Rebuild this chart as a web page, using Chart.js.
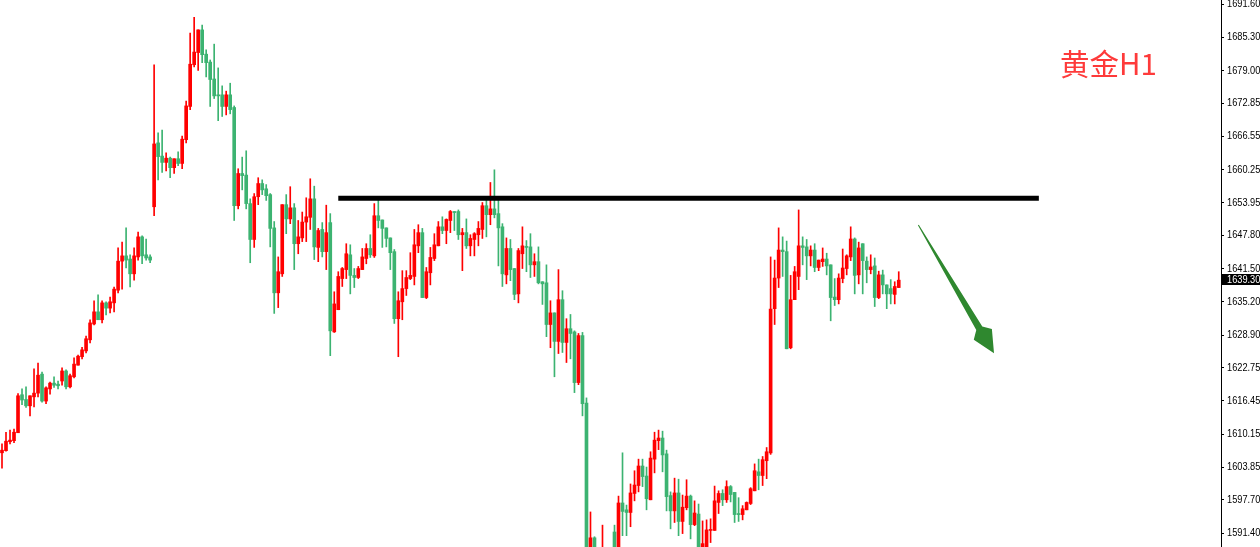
<!DOCTYPE html>
<html>
<head>
<meta charset="utf-8">
<script src="https://cdn.jsdelivr.net/npm/chart.js"></script>
<style>
  html, body { margin: 0; padding: 0; background: #fff; }
  #wrap { width: 1260px; height: 547px; }
</style>
</head>
<body>
<div id="wrap"><canvas id="myChart" width="1260" height="547"></canvas></div>
<script>
'use strict';

// H1 candles (oldest first)
let opens = [
  1606.6, 1607.0, 1608.7, 1608.9, 1610.4, 1617.6, 1616.7, 1615.5, 1617.2, 1617.9,
  1621.5, 1616.4, 1618.7, 1619.8, 1619.6, 1620.2, 1622.1, 1619.1, 1621.0, 1623.2,
  1624.8, 1625.9, 1628.0, 1631.0, 1633.3, 1631.8, 1635.0, 1634.0, 1635.0, 1637.4,
  1642.9, 1643.9, 1643.3, 1640.5, 1643.7, 1647.5, 1644.1, 1643.7, 1653.2, 1665.3,
  1662.8, 1661.6, 1662.4, 1660.6, 1662.3, 1661.4, 1665.9, 1672.2, 1680.1, 1682.4,
  1686.7, 1682.1, 1680.6, 1677.4, 1674.4, 1674.4, 1672.2, 1674.4, 1672.0, 1653.4,
  1659.5, 1659.2, 1653.8, 1647.0, 1655.1, 1657.6, 1656.6, 1655.5, 1649.2, 1636.9,
  1640.5, 1653.6, 1650.9, 1653.0, 1646.2, 1647.3, 1650.3, 1651.2, 1654.7, 1645.5,
  1648.9, 1644.7, 1650.2, 1629.5, 1633.7, 1639.6, 1641.3, 1644.1, 1640.2, 1639.8,
  1641.3, 1643.4, 1645.3, 1643.9, 1651.5, 1650.7, 1649.2, 1647.3, 1644.7, 1632.0,
  1635.2, 1637.7, 1639.6, 1640.0, 1645.8, 1648.3, 1636.0, 1640.7, 1643.4, 1645.8,
  1649.4, 1648.7, 1650.6, 1652.3, 1652.3, 1647.9, 1648.3, 1645.8, 1647.0, 1647.9,
  1648.9, 1653.4, 1651.7, 1652.8, 1651.9, 1649.4, 1640.3, 1645.3, 1641.5, 1636.7,
  1644.3, 1645.6, 1645.6, 1642.2, 1642.8, 1639.0, 1638.8, 1630.9, 1633.1, 1627.7,
  1635.6, 1627.5, 1630.1, 1629.5, 1619.9, 1628.8, 1616.0, 1587.0, 1590.5, 1588.0,
  1583.5, 1587.5, 1585.0, 1591.6, 1587.0, 1597.1, 1595.8, 1595.3, 1598.9, 1600.4,
  1604.1, 1602.2, 1597.7, 1605.4, 1608.9, 1609.4, 1606.4, 1598.5, 1595.6, 1599.0,
  1593.6, 1596.2, 1598.4, 1593.0, 1595.0, 1588.5, 1588.3, 1591.9, 1591.9, 1597.2,
  1598.9, 1597.7, 1600.2, 1599.1, 1595.1, 1594.9, 1595.8, 1597.0, 1599.4, 1603.0,
  1602.3, 1605.1, 1606.6, 1633.9, 1639.7, 1645.0, 1644.7, 1626.5, 1635.6, 1640.0,
  1645.8, 1645.6, 1643.9, 1645.0, 1641.7, 1642.8, 1643.3, 1642.2, 1636.1, 1635.6,
  1639.6, 1641.5, 1643.7, 1647.1, 1640.3, 1646.2, 1642.9, 1641.3, 1642.0, 1636.0,
  1640.3, 1638.4, 1637.7, 1636.6, 1637.9
];
let highs = [
  1608.3, 1610.5, 1610.9, 1611.1, 1617.8, 1618.7, 1619.1, 1617.4, 1622.5, 1623.6,
  1621.9, 1619.1, 1620.0, 1621.0, 1620.2, 1622.7, 1622.3, 1621.5, 1624.6, 1625.1,
  1626.6, 1628.7, 1631.8, 1635.4, 1636.5, 1635.4, 1635.2, 1636.1, 1638.0, 1645.4,
  1646.5, 1649.2, 1644.1, 1645.4, 1648.4, 1647.7, 1647.1, 1644.1, 1680.1, 1667.2,
  1667.7, 1663.4, 1662.6, 1662.3, 1663.6, 1666.6, 1673.2, 1686.1, 1689.1, 1686.7,
  1687.6, 1682.9, 1681.0, 1684.0, 1679.5, 1676.1, 1675.1, 1676.6, 1672.3, 1660.4,
  1662.6, 1663.8, 1654.7, 1655.7, 1658.7, 1658.3, 1657.4, 1655.7, 1650.4, 1643.7,
  1653.6, 1655.5, 1657.0, 1653.8, 1650.6, 1652.2, 1654.9, 1658.5, 1657.1, 1649.1,
  1650.2, 1653.5, 1651.9, 1637.1, 1640.9, 1641.7, 1646.2, 1646.0, 1641.5, 1641.9,
  1645.3, 1646.2, 1647.9, 1653.8, 1654.4, 1650.7, 1649.2, 1647.3, 1645.1, 1637.1,
  1641.1, 1641.1, 1644.5, 1648.9, 1649.8, 1649.1, 1641.7, 1645.5, 1648.1, 1650.4,
  1651.3, 1650.9, 1652.5, 1652.3, 1652.6, 1649.1, 1650.9, 1647.9, 1648.3, 1650.4,
  1654.0, 1654.4, 1657.8, 1660.2, 1654.4, 1650.0, 1647.3, 1647.0, 1641.5, 1645.3,
  1649.4, 1646.8, 1648.1, 1644.3, 1645.6, 1639.0, 1642.2, 1635.4, 1633.1, 1641.3,
  1637.3, 1632.0, 1632.8, 1629.7, 1629.2, 1629.4, 1617.0, 1595.4, 1590.7, 1588.5,
  1592.9, 1588.5, 1588.0, 1592.9, 1598.4, 1606.6, 1596.7, 1600.7, 1603.2, 1605.4,
  1605.4, 1603.9, 1606.8, 1610.5, 1610.9, 1610.7, 1607.1, 1599.2, 1601.8, 1601.6,
  1598.6, 1601.5, 1598.6, 1597.5, 1596.9, 1593.7, 1593.9, 1594.1, 1600.3, 1599.4,
  1599.6, 1601.3, 1600.4, 1599.1, 1598.1, 1596.6, 1597.3, 1600.0, 1604.5, 1605.4,
  1605.9, 1607.6, 1643.7, 1643.1, 1649.2, 1647.5, 1646.7, 1640.2, 1641.9, 1652.6,
  1647.5, 1647.0, 1645.8, 1646.2, 1643.1, 1645.4, 1644.4, 1642.2, 1639.6, 1640.5,
  1645.2, 1644.1, 1649.4, 1647.3, 1646.5, 1646.2, 1643.7, 1644.1, 1643.5, 1641.0,
  1641.2, 1638.4, 1639.4, 1639.0, 1640.9
];
let lows = [
  1603.7, 1606.9, 1608.3, 1608.5, 1610.4, 1615.7, 1615.2, 1613.6, 1615.3, 1617.2,
  1616.2, 1615.9, 1617.7, 1619.0, 1618.7, 1619.4, 1618.7, 1618.9, 1620.8, 1623.2,
  1624.4, 1625.5, 1627.4, 1630.8, 1631.8, 1631.2, 1632.7, 1633.1, 1633.3, 1636.9,
  1637.6, 1641.6, 1638.0, 1639.3, 1643.1, 1642.4, 1643.1, 1642.6, 1651.5, 1658.3,
  1659.7, 1660.0, 1658.7, 1659.5, 1661.0, 1660.4, 1665.3, 1671.6, 1679.7, 1679.0,
  1680.5, 1677.8, 1672.2, 1673.7, 1669.5, 1670.3, 1670.6, 1670.8, 1650.6, 1652.8,
  1656.4, 1652.8, 1642.6, 1645.5, 1653.6, 1655.5, 1654.4, 1645.6, 1633.0, 1634.1,
  1640.0, 1648.1, 1650.0, 1641.3, 1644.3, 1646.6, 1646.6, 1648.9, 1643.2, 1642.8,
  1643.7, 1641.3, 1625.0, 1629.4, 1633.7, 1638.1, 1639.6, 1636.7, 1637.9, 1639.6,
  1641.3, 1642.4, 1643.6, 1643.6, 1649.2, 1645.5, 1645.6, 1641.3, 1631.1, 1624.8,
  1631.8, 1636.4, 1639.4, 1638.4, 1644.5, 1636.0, 1635.8, 1638.4, 1643.0, 1645.8,
  1648.1, 1646.2, 1648.3, 1648.7, 1647.0, 1641.1, 1645.3, 1643.9, 1643.9, 1645.8,
  1647.2, 1647.5, 1649.8, 1651.1, 1642.0, 1638.1, 1638.6, 1639.2, 1635.6, 1635.0,
  1641.5, 1640.9, 1639.8, 1640.0, 1638.6, 1634.7, 1628.6, 1626.5, 1621.0, 1625.4,
  1625.6, 1623.7, 1624.4, 1618.0, 1619.5, 1613.6, 1584.4, 1585.5, 1586.5, 1583.0,
  1582.0, 1584.0, 1583.5, 1585.5, 1586.0, 1590.9, 1590.9, 1592.6, 1597.5, 1599.2,
  1600.2, 1595.8, 1597.7, 1602.8, 1607.2, 1603.0, 1595.6, 1592.2, 1593.4, 1590.9,
  1591.3, 1595.8, 1590.3, 1592.8, 1587.5, 1587.0, 1587.8, 1589.6, 1591.9, 1595.1,
  1596.6, 1597.2, 1597.3, 1593.4, 1593.6, 1593.9, 1595.8, 1596.8, 1599.4, 1599.6,
  1600.4, 1601.7, 1606.3, 1630.9, 1637.9, 1640.0, 1626.3, 1626.3, 1635.6, 1637.5,
  1642.2, 1639.4, 1642.0, 1640.9, 1641.1, 1641.9, 1640.3, 1631.6, 1634.5, 1634.8,
  1638.8, 1640.3, 1643.0, 1636.7, 1638.6, 1636.7, 1638.8, 1640.5, 1634.3, 1635.8,
  1636.7, 1633.9, 1634.8, 1634.8, 1637.9
];
let closes = [
  1607.1, 1608.8, 1609.0, 1610.5, 1617.4, 1616.6, 1615.5, 1617.4, 1617.9, 1621.3,
  1616.4, 1618.9, 1619.8, 1619.4, 1619.3, 1622.1, 1619.1, 1621.2, 1623.4, 1624.9,
  1626.1, 1628.2, 1631.2, 1633.3, 1631.8, 1635.0, 1634.0, 1635.2, 1637.6, 1642.9,
  1643.9, 1643.1, 1640.5, 1643.9, 1647.5, 1643.9, 1643.5, 1643.1, 1665.1, 1662.7,
  1661.6, 1662.4, 1660.6, 1662.3, 1661.4, 1666.0, 1672.3, 1680.2, 1682.5, 1686.7,
  1682.0, 1680.5, 1677.3, 1674.2, 1674.2, 1672.2, 1674.4, 1671.6, 1653.4, 1659.5,
  1659.1, 1653.8, 1647.0, 1655.1, 1657.6, 1656.4, 1655.3, 1649.1, 1636.9, 1640.9,
  1653.6, 1650.9, 1653.0, 1646.2, 1647.5, 1650.3, 1651.3, 1654.7, 1645.6, 1648.7,
  1644.7, 1648.3, 1629.7, 1634.8, 1640.0, 1641.5, 1644.3, 1640.2, 1639.8, 1641.5,
  1643.7, 1645.3, 1644.1, 1651.5, 1650.6, 1649.1, 1647.2, 1644.5, 1632.0, 1635.4,
  1637.7, 1639.8, 1640.2, 1646.0, 1648.3, 1636.0, 1640.9, 1643.6, 1646.0, 1649.4,
  1648.7, 1650.8, 1652.3, 1652.1, 1647.9, 1648.3, 1645.8, 1647.2, 1648.1, 1649.1,
  1653.4, 1651.7, 1652.8, 1651.7, 1649.2, 1640.5, 1645.3, 1641.3, 1636.6, 1644.9,
  1645.8, 1645.5, 1642.2, 1642.8, 1638.8, 1638.6, 1630.9, 1633.1, 1627.7, 1635.6,
  1627.5, 1630.1, 1629.2, 1619.9, 1628.8, 1615.9, 1586.3, 1590.5, 1588.0, 1584.5,
  1587.5, 1585.0, 1586.5, 1587.0, 1597.1, 1595.5, 1595.3, 1599.0, 1600.5, 1604.1,
  1602.1, 1597.9, 1605.6, 1609.0, 1609.4, 1606.2, 1598.3, 1595.6, 1599.0, 1593.6,
  1596.3, 1598.4, 1593.0, 1595.2, 1588.5, 1589.4, 1592.0, 1592.0, 1597.5, 1598.9,
  1597.7, 1600.2, 1598.7, 1594.9, 1594.9, 1596.0, 1597.2, 1599.8, 1603.2, 1602.3,
  1605.3, 1606.8, 1633.8, 1639.7, 1645.0, 1644.7, 1626.3, 1635.6, 1640.9, 1645.8,
  1645.5, 1643.9, 1645.0, 1641.7, 1643.1, 1643.3, 1642.0, 1636.0, 1635.6, 1639.7,
  1641.6, 1643.9, 1647.1, 1640.2, 1645.4, 1643.0, 1641.3, 1641.8, 1636.0, 1640.3,
  1638.4, 1636.7, 1636.7, 1638.1, 1639.3
];

// price scale labels on the right (MT4 style)
let yTicks = [1691.60, 1685.30, 1679.00, 1672.85, 1666.55, 1660.25, 1653.95, 1647.80,
  1641.50, 1635.20, 1628.90, 1622.75, 1616.45, 1610.15, 1603.85, 1597.70, 1591.40];
let yMax = 1692.36;
let yMin = 1588.76;
let slots = 305;

// resistance line + arrow
let levelPrice = 1654.8;
let levelFrom = 84;
let levelTo = 259;
let arrowFrom = { i: 228.9, p: 1649.75 };
let arrowTo = { i: 247.8, p: 1625.45 };
let titleText = '黄金H1';

let upColor = '#ff0000';
let downColor = '#3cb371';
let axisFont = '11px "Liberation Sans"';
let squeeze = 0.84; // MT4 axis font is narrow, squash Liberation a bit

let labels = [];
for (let i = 0; i < slots; i++) {
    labels.push(i);
}

let wickData = [];
let bodyData = [];
let candleColors = [];
for (let i = 0; i < opens.length; i++) {
    wickData.push([lows[i], highs[i]]);
    bodyData.push([opens[i], closes[i]]);
    candleColors.push(closes[i] >= opens[i] ? upColor : downColor);
}

let levelData = labels.map(function (i) {
    return (i === levelFrom || i === levelTo) ? levelPrice : null;
});

function narrowText(ctx, text, x, y) {
    ctx.save();
    ctx.translate(x, y);
    ctx.scale(squeeze, 1);
    ctx.fillText(text, 0, 0);
    ctx.restore();
}

let extrasPlugin = {
    id: 'extras',
    afterDatasetsDraw: function (chart) {
        let ctx = chart.ctx;
        let xs = chart.scales.x;
        let ys = chart.scales.y;

        // green arrow
        let x0 = xs.getPixelForValue(arrowFrom.i);
        let y0 = ys.getPixelForValue(arrowFrom.p);
        let x1 = xs.getPixelForValue(arrowTo.i);
        let y1 = ys.getPixelForValue(arrowTo.p);
        let len = Math.hypot(x1 - x0, y1 - y0);
        let ux = (x1 - x0) / len;
        let uy = (y1 - y0) / len;
        let nx = -uy;
        let ny = ux;
        let shape = [[0, -0.5], [len - 29, -3.5], [len - 22, -10.5], [len, 0],
            [len - 22, 10.5], [len - 29, 3.5], [0, 0.5]];
        ctx.save();
        ctx.fillStyle = '#2f882f';
        ctx.beginPath();
        shape.forEach(function (pt, k) {
            let px = x0 + ux * pt[0] + nx * pt[1];
            let py = y0 + uy * pt[0] + ny * pt[1];
            if (k === 0) ctx.moveTo(px, py); else ctx.lineTo(px, py);
        });
        ctx.closePath();
        ctx.fill();

        // title
        ctx.fillStyle = '#fe3a3a';
        ctx.font = '29.5px "Noto Sans CJK SC"';
        ctx.textAlign = 'left';
        ctx.textBaseline = 'middle';
        ctx.fillText(titleText, 1060, 64);
        ctx.restore();
    },
    afterDraw: function (chart) {
        let ctx = chart.ctx;
        let ys = chart.scales.y;
        let tx = ys.left + 6;
        ctx.save();
        ctx.font = axisFont;
        ctx.textAlign = 'left';
        ctx.textBaseline = 'middle';

        // tick labels
        ctx.fillStyle = '#000';
        yTicks.forEach(function (v) {
            narrowText(ctx, v.toFixed(2), tx, ys.getPixelForValue(v));
        });

        // current price tag
        let last = closes[closes.length - 1];
        let y = Math.round(ys.getPixelForValue(last));
        ctx.fillStyle = '#000';
        ctx.fillRect(ys.left + 1, y - 6, ys.width, 11);
        ctx.fillStyle = '#fff';
        narrowText(ctx, last.toFixed(2), tx, y);
        ctx.restore();
    }
};

let ctx = document.getElementById('myChart').getContext('2d');
let myChart = new Chart(ctx, {
    type: 'bar',
    data: {
        labels: labels,
        datasets: [{
            type: 'line',
            data: levelData,
            borderColor: '#000',
            borderWidth: 5,
            pointRadius: 0,
            spanGaps: true,
            borderCapStyle: 'butt',
            order: 0
        },
        {
            data: bodyData,
            backgroundColor: candleColors,
            barThickness: 3,
            minBarLength: 1,
            borderWidth: 0,
            grouped: false,
            order: 1
        },
        {
            data: wickData,
            backgroundColor: candleColors,
            barThickness: 1,
            borderWidth: 0,
            grouped: false,
            order: 2
        }]
    },
    options: {
        responsive: false,
        animation: false,
        devicePixelRatio: 1,
        layout: { padding: 0 },
        plugins: {
            legend: { display: false },
            tooltip: { enabled: false }
        },
        scales: {
            x: {
                display: false
            },
            y: {
                position: 'right',
                min: yMin,
                max: yMax,
                afterBuildTicks: function (scale) {
                    scale.ticks = yTicks.map(function (v) { return { value: v }; });
                },
                afterFit: function (scale) {
                    scale.width = 39;
                    scale.paddingTop = 0;
                    scale.paddingBottom = 0;
                },
                grid: {
                    drawOnChartArea: false,
                    drawTicks: true,
                    tickLength: 3,
                    tickColor: '#000'
                },
                border: { display: true, color: '#000', width: 1 },
                ticks: {
                    display: false
                }
            }
        }
    },
    plugins: [extrasPlugin]
});
</script>
</body>
</html>
